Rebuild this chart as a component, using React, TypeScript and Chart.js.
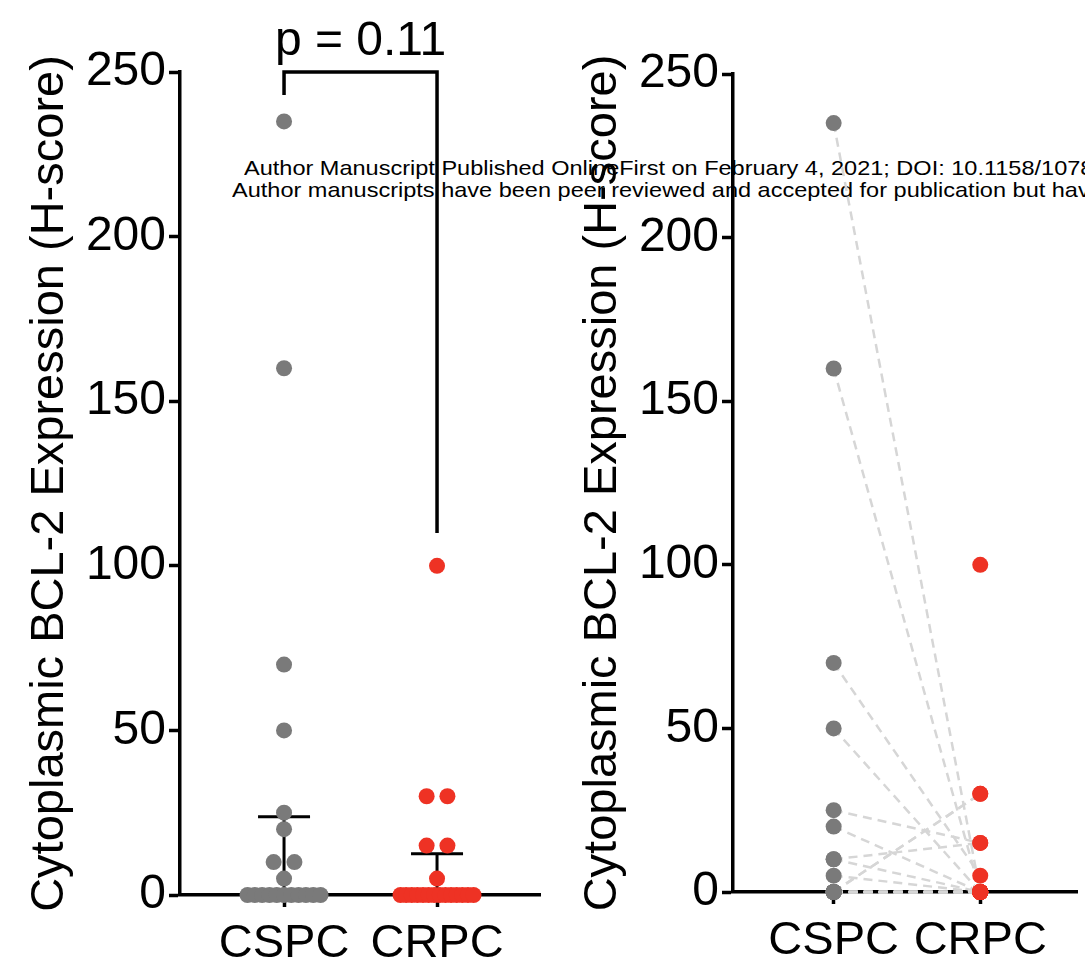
import React, { useEffect, useRef } from "react";
import { Chart, registerables } from "chart.js";

Chart.register(...registerables);

// ---------------- data ----------------
const groups = ["CSPC", "CRPC"];
const cspcValues = [235, 160, 70, 50, 25, 20, 10, 10, 5, 0, 0, 0, 0, 0, 0, 0, 0, 0, 0, 0];
const crpcValues = [100, 30, 30, 15, 15, 5, 0, 0, 0, 0, 0, 0, 0, 0, 0, 0, 0, 0, 0, 0];
// paired (before/after) panel: null = sample missing in that group
const pairedCSPC = [235, 160, 70, 50, 25, 20, 10, 10, 5, 0, 0, 0, 0, 0, 0, 0, 0, 0, 0, null];
const pairedCRPC = [0, 0, 5, 0, 15, 0, 15, 0, 0, 30, 30, 0, 0, 0, 0, 0, 0, 0, 0, 100];
const yTicks = [0, 50, 100, 150, 200, 250];
const yTitle = "Cytoplasmic BCL-2 Expression (H-score)";
const pValueLabel = "p = 0.11";
const bracketTop = 250;
const bracketLeftEnd = 243;
const bracketRightEnd = 110;
const watermarkLines = [
  "Author Manuscript Published OnlineFirst on February 4, 2021; DOI: 10.1158/1078-0432",
  "Author manuscripts have been peer reviewed and accepted for publication but have not yet been edited.",
];

// ---------------- styles ----------------
const GRAY = "rgb(122,122,122)";
const RED = "rgb(238,50,36)";
const LINK = "rgb(214,214,214)";
const FONT = "'Liberation Sans', Arial, Helvetica, sans-serif";
const NARROW = "'Liberation Sans Narrow', 'Arial Narrow', 'Liberation Sans', sans-serif";
const POINT_R = 8;

function quantile(vals: number[], p: number) {
  const s = [...vals].sort((a, b) => a - b);
  const n = s.length;
  const pos = p * (n + 1);
  if (pos <= 1) return s[0];
  if (pos >= n) return s[n - 1];
  const lo = Math.floor(pos);
  return s[lo - 1] + (pos - lo) * (s[lo] - s[lo - 1]);
}

// beeswarm offsets in pixels
function swarm(values: number[], yPix: (v: number) => number, diam: number, maxRow: number) {
  const offsets = new Array(values.length).fill(0);
  const placed: { x: number; y: number }[] = [];
  const counts = new Map<number, number>();
  values.forEach((v) => counts.set(v, (counts.get(v) || 0) + 1));
  const seen = new Map<number, number>();
  const order = values.map((_, i) => i).sort((a, b) => values[a] - values[b]);
  for (const i of order) {
    const v = values[i];
    const k = counts.get(v) || 1;
    const y = yPix(v);
    if (k > 1) {
      const j = seen.get(v) || 0;
      seen.set(v, j + 1);
      const sp = Math.min(diam * 1.3, maxRow / (k - 1));
      offsets[i] = (j - (k - 1) / 2) * sp;
    } else {
      const step = diam * 0.7;
      let best = 0;
      for (let t = 0; t < 40; t++) {
        const c = t === 0 ? 0 : (t % 2 ? 1 : -1) * Math.ceil(t / 2) * step;
        if (placed.every((p) => Math.hypot(p.x - c, p.y - y) >= diam * 0.95)) {
          best = c;
          break;
        }
      }
      offsets[i] = best;
    }
    placed.push({ x: offsets[i], y });
  }
  return offsets;
}

function baseScales(opts: { xmin: number; xmax: number; xHeight: number; yWidth: number }) {
  return {
    x: {
      type: "linear",
      min: opts.xmin,
      max: opts.xmax,
      afterBuildTicks: (s: any) => {
        s.ticks = groups.map((_, i) => ({ value: i + 1 }));
      },
      afterFit: (s: any) => {
        s.height = opts.xHeight;
      },
      ticks: {
        callback: (v: any) => groups[Math.round(v) - 1] ?? "",
        font: { family: FONT, size: 47 },
        color: "#000",
        padding: 9,
        autoSkip: false,
        maxRotation: 0,
      },
      grid: { drawOnChartArea: false, drawTicks: true, tickLength: 12, tickWidth: 3.5, color: "#000" },
      border: { display: true, width: 3.5, color: "#000" },
    },
    y: {
      min: 0,
      max: 250,
      afterBuildTicks: (s: any) => {
        s.ticks = yTicks.map((v) => ({ value: v }));
      },
      afterFit: (s: any) => {
        s.width = opts.yWidth;
      },
      ticks: { font: { family: FONT, size: 48 }, color: "#000", padding: 3 },
      grid: { drawOnChartArea: false, drawTicks: true, tickLength: 11, tickWidth: 3.5, color: "#000" },
      border: { display: true, width: 3.5, color: "#000" },
      title: {
        display: true,
        text: yTitle,
        color: "#000",
        font: { family: NARROW, size: 47 },
        padding: { top: 22, bottom: 0 },
      },
    },
  };
}

const commonOptions = {
  responsive: false,
  animation: false as const,
  events: [] as any[],
  plugins: { legend: { display: false }, tooltip: { enabled: false } },
};

const errorBarPlugin = {
  id: "errorBars",
  beforeDatasetsDraw(chart: any) {
    const { ctx, scales } = chart;
    const sets = [cspcValues, crpcValues];
    ctx.save();
    ctx.strokeStyle = "#000";
    ctx.lineWidth = 3;
    sets.forEach((vals, i) => {
      const x = scales.x.getPixelForValue(i + 1);
      const q1 = scales.y.getPixelForValue(quantile(vals, 0.25));
      const q3 = scales.y.getPixelForValue(quantile(vals, 0.75));
      const med = scales.y.getPixelForValue(quantile(vals, 0.5));
      ctx.beginPath();
      ctx.moveTo(x, q1);
      ctx.lineTo(x, q3);
      ctx.moveTo(x - 26, q3);
      ctx.lineTo(x + 26, q3);
      ctx.moveTo(x - 26, q1);
      ctx.lineTo(x + 26, q1);
      ctx.moveTo(x - 40, med);
      ctx.lineTo(x + 40, med);
      ctx.stroke();
    });
    ctx.restore();
  },
};

const bracketPlugin = {
  id: "bracket",
  afterDatasetsDraw(chart: any) {
    const { ctx, scales } = chart;
    const x1 = scales.x.getPixelForValue(1);
    const x2 = scales.x.getPixelForValue(2);
    const yt = scales.y.getPixelForValue(bracketTop);
    ctx.save();
    ctx.strokeStyle = "#000";
    ctx.lineWidth = 3.5;
    ctx.lineCap = "butt";
    ctx.beginPath();
    ctx.moveTo(x1, scales.y.getPixelForValue(bracketLeftEnd));
    ctx.lineTo(x1, yt);
    ctx.lineTo(x2, yt);
    ctx.lineTo(x2, scales.y.getPixelForValue(bracketRightEnd));
    ctx.stroke();
    ctx.fillStyle = "#000";
    ctx.font = `48px ${FONT}`;
    ctx.textAlign = "center";
    ctx.textBaseline = "alphabetic";
    ctx.fillText(pValueLabel, (x1 + x2) / 2, yt - 17);
    ctx.restore();
  },
};

function applySwarm(chart: any) {
  const xs = chart.scales.x;
  const ys = chart.scales.y;
  const pxPerUnit = xs.getPixelForValue(2) - xs.getPixelForValue(1);
  [cspcValues, crpcValues].forEach((vals, i) => {
    const off = swarm(vals, (v) => ys.getPixelForValue(v), POINT_R * 2, 73);
    chart.data.datasets[i].data = vals.map((v, k) => ({ x: i + 1 + off[k] / pxPerUnit, y: v }));
  });
  chart.update("none");
}

const watermarkStyle: React.CSSProperties = {
  position: "absolute",
  fontFamily: FONT,
  fontSize: 21,
  lineHeight: "22px",
  whiteSpace: "nowrap",
  color: "#000",
  transform: "scaleX(1.12)",
  transformOrigin: "0 0",
};

export default function App() {
  const leftRef = useRef<HTMLCanvasElement>(null);
  const rightRef = useRef<HTMLCanvasElement>(null);

  useEffect(() => {
    const left = new Chart(leftRef.current as HTMLCanvasElement, {
      type: "scatter",
      data: {
        datasets: [
          {
            label: groups[0],
            data: cspcValues.map((v) => ({ x: 1, y: v })),
            backgroundColor: GRAY,
            borderWidth: 0,
            pointRadius: POINT_R,
            clip: false,
          },
          {
            label: groups[1],
            data: crpcValues.map((v) => ({ x: 2, y: v })),
            backgroundColor: RED,
            borderWidth: 0,
            pointRadius: POINT_R,
            clip: false,
          },
        ],
      },
      options: {
        ...commonOptions,
        layout: { padding: { top: 72, right: 13, bottom: 0, left: 0 } },
        scales: baseScales({ xmin: 0.32, xmax: 2.673, xHeight: 76, yWidth: 180 }) as any,
      },
      plugins: [errorBarPlugin, bracketPlugin],
    } as any);
    applySwarm(left);

    const linkSets: any[] = [];
    pairedCSPC.forEach((a, i) => {
      const b = pairedCRPC[i];
      if (a === null || b === null) return;
      linkSets.push({
        data: [
          { x: 1, y: a },
          { x: 2, y: b },
        ],
        showLine: true,
        borderColor: LINK,
        borderWidth: 2.5,
        borderDash: [9, 6],
        pointRadius: 0,
        clip: false,
        order: 1,
      });
    });
    const right = new Chart(rightRef.current as HTMLCanvasElement, {
      type: "scatter",
      data: {
        datasets: [
          {
            label: groups[0],
            data: pairedCSPC.filter((v) => v !== null).map((v) => ({ x: 1, y: v })),
            backgroundColor: GRAY,
            borderWidth: 0,
            pointRadius: POINT_R,
            clip: false,
            order: 0,
          },
          {
            label: groups[1],
            data: pairedCRPC.filter((v) => v !== null).map((v) => ({ x: 2, y: v })),
            backgroundColor: RED,
            borderWidth: 0,
            pointRadius: POINT_R,
            clip: false,
            order: 0,
          },
          ...linkSets,
        ],
      },
      options: {
        ...commonOptions,
        layout: { padding: { top: 74, right: 0, bottom: 0, left: 0 } },
        scales: baseScales({ xmin: 0.3133, xmax: 2.66, xHeight: 79, yWidth: 180 }) as any,
      },
    } as any);

    return () => {
      left.destroy();
      right.destroy();
    };
  }, []);

  return (
    <div
      style={{
        position: "fixed",
        left: 0,
        top: 0,
        width: 1085,
        height: 971,
        overflow: "hidden",
        background: "#fff",
      }}
    >
      <div style={{ ...watermarkStyle, left: 244, top: 157 }}>{watermarkLines[0]}</div>
      <div style={{ ...watermarkStyle, left: 232, top: 179 }}>{watermarkLines[1]}</div>
      <canvas
        ref={leftRef}
        width={553}
        height={971}
        style={{ position: "absolute", left: 0, top: 0, width: 553, height: 971 }}
      />
      <canvas
        ref={rightRef}
        width={532}
        height={971}
        style={{ position: "absolute", left: 553, top: 0, width: 532, height: 971 }}
      />
    </div>
  );
}
